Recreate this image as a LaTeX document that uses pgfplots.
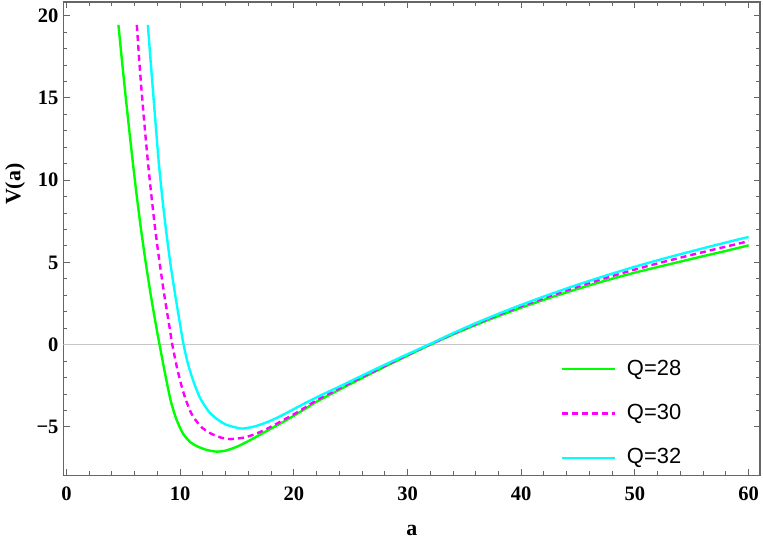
\documentclass[border=0pt]{standalone}
\usepackage{pgfplots}
\pgfplotsset{compat=1.18}
\usepackage{fontspec}
\setmainfont{Liberation Serif}
\newfontfamily\arial{Liberation Sans}

\definecolor{qgreen}{rgb}{0,1,0}
\definecolor{qmag}{rgb}{1,0,1}
\definecolor{qcyan}{rgb}{0,1,1}

\begin{document}
\begin{tikzpicture}
\begin{axis}[
    scale only axis,
    width=348.25bp, height=236.65bp,
    xmin=-0.26, xmax=61.0,
    ymin=-7.94, ymax=20.83,
    axis line style={draw=black!60, line width=0.65bp},
    tick align=inside,
    tick style={draw=black!60, line width=0.5bp},
    major tick length=3.2bp,
    minor tick length=2bp,
    xtick={0,10,20,30,40,50,60},
    xticklabels={0,10,20,30,40,50,60},
    ytick={-5,0,5,10,15,20},
    yticklabels={−5,0,5,10,15,20},
    minor x tick num=4,
    minor y tick num=4,
    ticklabel style={font=\fontsize{10.3}{12}\selectfont\bfseries},
    xticklabel style={yshift=-2.4bp},
    yticklabel style={xshift=1bp},
    xlabel={a},
    ylabel={V(a)},
    label style={font=\fontsize{11}{13}\selectfont\bfseries},
    xlabel style={at={(axis description cs:0.5,-0.1162)}, anchor=center},
    ylabel style={at={(axis description cs:-0.0696,0.615)}, anchor=center},
    legend style={draw=none, fill=none, at={(axis cs:42.9,-0.43)}, anchor=north west,
        font=\arial\fontsize{11}{13}\selectfont, row sep=9bp},
    legend cell align=left,
    legend image code/.code={\draw[#1] (0bp,0bp) -- (26.5bp,0bp); \path (30bp,0bp);},
]
\addplot[forget plot, draw=black!22, line width=0.7bp] coordinates {(-1,0) (62,0)};

% Q=28
\addplot[qgreen, line width=1.2bp, smooth, tension=0.4] coordinates {
(4.57,19.44) (4.92,17) (5.22,15) (5.53,13) (5.85,11) (6.19,9) (6.56,7)
(6.97,5) (7.42,3) (7.92,1) (8.19,0) (8.6,-1.5) (9.15,-3.35) (9.65,-4.5)
(10.22,-5.37) (10.85,-5.9) (11.5,-6.18) (12.35,-6.4) (13.2,-6.5) (14.0,-6.44)
(15,-6.2) (16,-5.86) (17,-5.48) (18,-5.1) (19,-4.72) (20,-4.32) (21,-3.9)
(22,-3.47) (24,-2.74) (26,-2.03) (28,-1.34) (30,-0.66) (32,0.0) (34,0.62)
(36,1.2) (38,1.74) (40,2.25) (42,2.73) (44,3.18) (46,3.61) (48,4.01)
(50,4.38) (52,4.72) (54,5.05) (56,5.38) (58,5.7) (60,6.04)
};
\addlegendentry{Q=28}

% Q=30
\addplot[qmag, line width=1.2bp, dash pattern=on 3bp off 2bp, smooth, tension=0.4] coordinates {
(6.19,19.44) (6.43,17) (6.66,15) (6.91,13) (7.18,11) (7.48,9) (7.81,7)
(8.19,5) (8.61,3) (9.08,1) (9.31,0) (9.7,-1.33) (10.12,-2.5) (10.5,-3.35)
(11.0,-4.2) (11.8,-4.97) (12.7,-5.4) (13.6,-5.65) (14.4,-5.74) (15.5,-5.66)
(16.5,-5.46) (17.5,-5.16) (18.5,-4.8) (19.5,-4.42) (20.5,-4.03) (22,-3.38)
(24,-2.66) (26,-1.97) (28,-1.29) (30,-0.63) (32,0.02) (34,0.66) (36,1.26)
(38,1.81) (40,2.34) (42,2.83) (44,3.3) (46,3.75) (48,4.17) (50,4.57)
(52,4.94) (54,5.29) (56,5.63) (58,5.96) (60,6.29)
};
\addlegendentry{Q=30}

% Q=32
\addplot[qcyan, line width=1.2bp, smooth, tension=0.4] coordinates {
(7.16,19.44) (7.43,17) (7.66,15) (7.89,13) (8.13,11) (8.42,9) (8.75,7)
(9.13,5) (9.57,3) (10.05,1) (10.3,0) (10.7,-1.2) (11.2,-2.3) (11.76,-3.25)
(12.5,-4.05) (13.2,-4.5) (14.0,-4.85) (15.0,-5.05) (15.5,-5.1) (16.5,-4.98)
(17.5,-4.75) (18.5,-4.45) (19.5,-4.1) (20.5,-3.73) (22,-3.2) (24,-2.55)
(26,-1.88) (28,-1.22) (30,-0.58) (32,0.05) (34,0.7) (36,1.31) (38,1.88)
(40,2.42) (42,2.93) (44,3.42) (46,3.88) (48,4.32) (50,4.74) (52,5.13)
(54,5.5) (56,5.86) (58,6.21) (60,6.55)
};
\addlegendentry{Q=32}
\end{axis}
\pgfresetboundingbox
\path[use as bounding box] (-31.75bp,-34.85bp) rectangle (349.75bp,237.65bp);
\end{tikzpicture}
\end{document}
